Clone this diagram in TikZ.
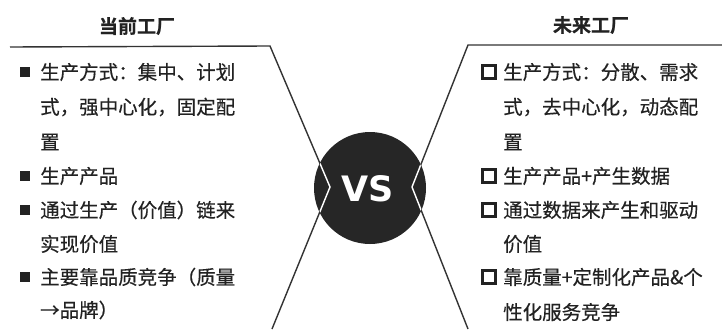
\documentclass[tikz,border=0pt]{standalone}
\usepackage{fontspec}
\newfontfamily\cjk[FakeBold=0.35]{Noto Sans CJK SC}
\newfontfamily\cjkb[FakeBold=0.6]{Noto Sans CJK SC Bold}
\definecolor{ink}{HTML}{222222}
\definecolor{linec}{HTML}{333333}
\definecolor{disc}{HTML}{262626}
\begin{document}
\begin{tikzpicture}[x=1pt,y=-1pt,
  txt/.style={anchor=west,inner sep=0pt,font=\cjk\fontsize{19.5}{20}\selectfont,text=ink},
  ttl/.style={inner sep=0pt,font=\cjkb\fontsize{19}{20}\selectfont,text=ink},
  fb/.style={fill=ink,minimum size=10pt,inner sep=0pt},
  hb/.style={draw=ink,line width=3pt,minimum size=12.5pt,inner sep=0pt},
  frame/.style={draw=linec,line width=1.4pt,line join=miter},
  wline/.style={draw=white,line width=1.4pt}]
\useasboundingbox (0,0) rectangle (722,329);
\fill[white] (0,0) rectangle (722,329);
% titles
\node[ttl] (t1) at (137,26) {当前工厂};
\node[ttl] (t2) at (591,25) {未来工厂};
% circle
\node[circle,fill=disc,minimum size=112pt,inner sep=0pt] (c) at (370,188) {};
\node[text=white,font=\fontspec{DejaVu Sans}\bfseries\fontsize{35}{35}\selectfont,inner sep=0pt] (vs) at (368,189) {VS};
% frame coordinates
\coordinate (l0) at (10,47);
\coordinate (l1) at (270,46);
\coordinate (lp) at (330,187);
\coordinate (l2) at (272,329);
\coordinate (r0) at (722,45);
\coordinate (r1) at (468,45);
\coordinate (rp) at (412,187);
\coordinate (r2) at (468,329);
\draw[frame] (l0) -- (l1) -- (lp) -- (l2);
\draw[frame] (r0) -- (r1) -- (rp) -- (r2);
\begin{scope}
\clip (c.center) circle (55.5pt);
\draw[wline] (l1) -- (lp) -- (l2);
\draw[wline] (r1) -- (rp) -- (r2);
\end{scope}
% left bullets
\node[fb] (lb1) at (25,72) {};
\node[fb] (lb2) at (25,176) {};
\node[fb] (lb3) at (25,210) {};
\node[fb] (lb4) at (25,277) {};
\node[txt] (la1) at (40,72) {生产方式：集中、计划};
\node[txt] (la2) at (40,107) {式，强中心化，固定配};
\node[txt] (la3) at (40,142) {置};
\node[txt] (la4) at (40,176) {生产产品};
\node[txt] (la5) at (40,210) {通过生产（价值）链来};
\node[txt] (la6) at (40,244) {实现价值};
\node[txt] (la7) at (40,277) {主要靠品质竞争（质量};
\node[txt] (la8) at (40,310) {→品牌）};
% right bullets
\node[hb] (rb1) at (489,72) {};
\node[hb] (rb2) at (489,176) {};
\node[hb] (rb3) at (489,210) {};
\node[hb] (rb4) at (489,277) {};
\node[txt] (ra1) at (503,72) {生产方式：分散、需求};
\node[txt] (ra2) at (503,107) {式，去中心化，动态配};
\node[txt] (ra3) at (503,142) {置};
\node[txt] (ra4) at (503,176) {生产产品+产生数据};
\node[txt] (ra5) at (503,210) {通过数据来产生和驱动};
\node[txt] (ra6) at (503,244) {价值};
\node[txt] (ra7) at (503,277) {靠质量+定制化产品\&个};
\node[txt] (ra8) at (503,312) {性化服务竞争};
\end{tikzpicture}
\end{document}
